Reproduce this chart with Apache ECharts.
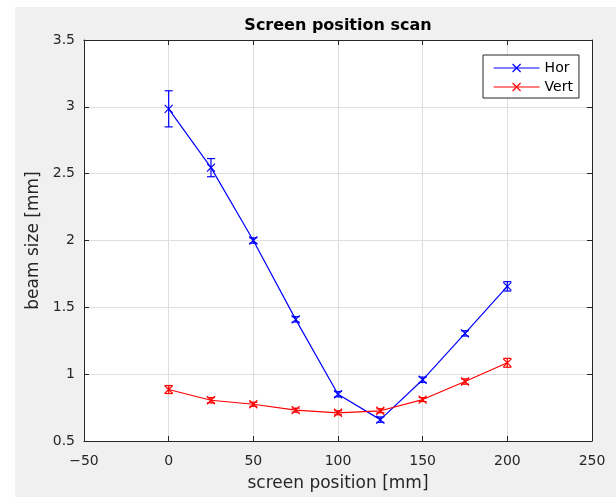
<!DOCTYPE html>
<html>
<head>
<meta charset="utf-8">
<script src="https://cdn.jsdelivr.net/npm/echarts@6/dist/echarts.min.js"></script>
<style>
  html, body { margin: 0; padding: 0; background: #ffffff; }
  #chart { position: absolute; left: 15px; top: 7px; width: 601px; height: 490px; }
</style>
</head>
<body>
<div id="chart"></div>
<script>
// screen positions [mm]
const positions = [0, 25, 50, 75, 100, 125, 150, 175, 200]
// horizontal beam size [mm] and its error
const horSize = [2.985, 2.545, 2.0, 1.41, 0.85, 0.66, 0.958, 1.305, 1.657]
const horErr = [0.135, 0.068, 0.02, 0.02, 0.02, 0.02, 0.02, 0.02, 0.035]
// vertical beam size [mm] and its error
const vertSize = [0.885, 0.805, 0.775, 0.731, 0.711, 0.726, 0.81, 0.945, 1.085]
const vertErr = [0.03, 0.02, 0.015, 0.015, 0.015, 0.015, 0.015, 0.02, 0.033]

const xTicks = [-50, 0, 50, 100, 150, 200, 250]
const yTicks = [0.5, 1, 1.5, 2, 2.5, 3, 3.5]

const axisColor = '#262626'
const font = 'DejaVu Sans'
const crossSymbol = 'path://M0,0L10,10M10,0L0,10'

const chart = echarts.init(document.getElementById('chart'))

const pairs = (ys) => positions.map((x, i) => [x, ys[i]])
const errData = (ys, errs) => positions.map((x, i) => [x, ys[i] - errs[i], ys[i] + errs[i]])

const errorBars = (name, color, ys, errs) => ({
  name: name,
  type: 'custom',
  silent: true,
  z: 3,
  data: errData(ys, errs),
  renderItem: (params, api) => {
    const lo = api.coord([api.value(0), api.value(1)])
    const hi = api.coord([api.value(0), api.value(2)])
    const w = 4
    const style = { stroke: color, lineWidth: 1.2 }
    return {
      type: 'group',
      children: [
        { type: 'line', shape: { x1: lo[0], y1: lo[1], x2: hi[0], y2: hi[1] }, style },
        { type: 'line', shape: { x1: lo[0] - w, y1: lo[1], x2: lo[0] + w, y2: lo[1] }, style },
        { type: 'line', shape: { x1: hi[0] - w, y1: hi[1], x2: hi[0] + w, y2: hi[1] }, style }
      ]
    }
  }
})

const lineSeries = (name, color, ys) => ({
  name: name,
  type: 'line',
  data: pairs(ys),
  symbol: crossSymbol,
  symbolSize: 8,
  showSymbol: true,
  z: 4,
  lineStyle: { color: color, width: 1.2 },
  itemStyle: { color: 'none', borderColor: color, borderWidth: 1.2 },
  emphasis: { disabled: true }
})

const baseX = {
  type: 'value',
  min: -50,
  max: 250,
  interval: 50,
  axisLine: { show: true, onZero: false, lineStyle: { color: axisColor, width: 1 } },
  axisTick: { show: true, inside: true, length: 5, lineStyle: { color: axisColor } }
}
const baseY = {
  type: 'value',
  min: 0.5,
  max: 3.5,
  interval: 0.5,
  axisLine: { show: true, onZero: false, lineStyle: { color: axisColor, width: 1 } },
  axisTick: { show: true, inside: true, length: 5, lineStyle: { color: axisColor } }
}

const option = {
  backgroundColor: '#f0f0f0',
  animation: false,
  title: {
    text: 'Screen position scan',
    left: 323,
    top: 11,
    padding: 0,
    textAlign: 'center',
    textStyle: { fontFamily: font, fontSize: 16, fontWeight: 'bold', color: '#000000' }
  },
  grid: {
    left: 69,
    top: 33,
    right: 24,
    bottom: 56,
    show: true,
    backgroundColor: '#ffffff',
    borderWidth: 0,
    outerBoundsMode: 'none'
  },
  legend: {
    orient: 'vertical',
    left: 468,
    top: 48,
    padding: [6, 6, 4, 10],
    itemWidth: 46,
    itemHeight: 10,
    itemGap: 5,
    backgroundColor: '#ffffff',
    borderColor: axisColor,
    borderWidth: 1,
    borderRadius: 0,
    data: ['Hor', 'Vert'],
    lineStyle: { width: 1.2 },
    itemStyle: { borderWidth: 1.2 },
    textStyle: { fontFamily: font, fontSize: 14, color: '#000000', padding: [0, 0, 0, 0] }
  },
  xAxis: [
    {
      ...baseX,
      position: 'bottom',
      name: 'screen position [mm]',
      nameLocation: 'middle',
      nameGap: 34,
      nameTextStyle: { fontFamily: font, fontSize: 17, color: axisColor },
      axisLabel: { fontFamily: font, fontSize: 14, color: axisColor, margin: 13,
        formatter: (v) => xTicks.includes(v) ? String(v).replace('-', '\u2212') : '' },
      splitLine: { show: true, lineStyle: { color: '#dedede', width: 1 } }
    },
    {
      ...baseX,
      position: 'top',
      axisLabel: { show: false },
      splitLine: { show: false }
    }
  ],
  yAxis: [
    {
      ...baseY,
      position: 'left',
      name: 'beam size [mm]',
      nameLocation: 'middle',
      nameGap: 34,
      nameTextStyle: { fontFamily: font, fontSize: 17, color: axisColor },
      axisLabel: { fontFamily: font, fontSize: 14, color: axisColor, margin: 9,
        formatter: (v) => yTicks.includes(v) ? String(v) : '' },
      splitLine: { show: true, lineStyle: { color: '#dedede', width: 1 } }
    },
    {
      ...baseY,
      position: 'right',
      axisLabel: { show: false },
      splitLine: { show: false }
    }
  ],
  series: [
    lineSeries('Hor', '#0000ff', horSize),
    lineSeries('Vert', '#ff0000', vertSize),
    errorBars('Hor', '#0000ff', horSize, horErr),
    errorBars('Vert', '#ff0000', vertSize, vertErr)
  ]
}

chart.setOption(option)
</script>
</body>
</html>
